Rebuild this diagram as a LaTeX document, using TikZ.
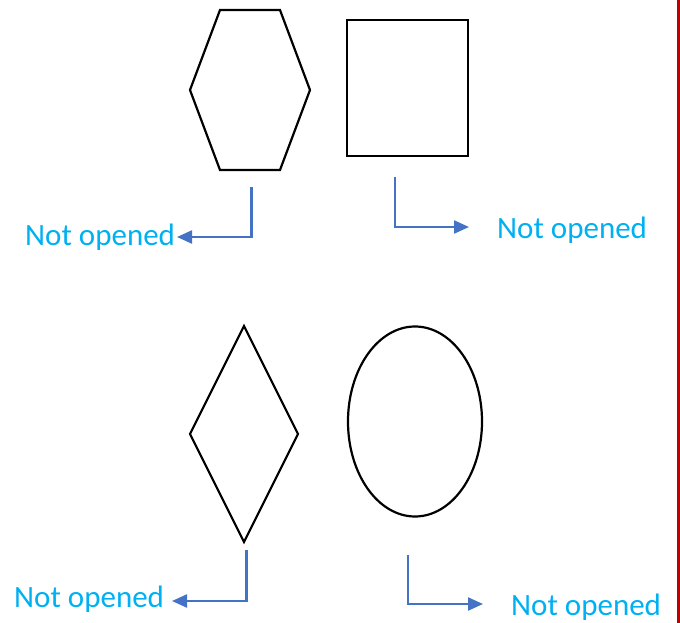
\documentclass[tikz,border=0pt]{standalone}
\usepackage{fontspec}
\setmainfont{Carlito}
\usetikzlibrary{arrows.meta}
\definecolor{labelblue}{HTML}{00B0F0}
\definecolor{arrowblue}{HTML}{4472C4}
\definecolor{edgered}{HTML}{C00000}
\tikzset{
  outline/.style={draw=black, line width=2.2pt, line join=miter},
  pointer/.style={draw=arrowblue, line width=2.2pt,
    -{Triangle[length=15pt,width=13pt]}},
  notelabel/.style={text=labelblue, inner sep=0pt,
    font=\fontsize{31}{36}\selectfont},
}
\begin{document}
\begin{tikzpicture}[x=1pt,y=-1pt]
  \useasboundingbox (0,0) rectangle (680,623);
  % right margin rule
  \fill[edgered] (676.5,0) rectangle (680,623);

  % shapes
  \draw[outline] (220,10) -- (280,10) -- (310,90) -- (280,170) -- (220,170) -- (190,90) -- cycle;
  \draw[outline] (347,20) rectangle (468,156);
  \draw[outline] (244,326) -- (298,434) -- (244,542) -- (190,434) -- cycle;
  \draw[outline] (415,421.5) ellipse [x radius=67, y radius=95];

  % labels
  \node[notelabel, anchor=base west] (l1) at (25,245) {Not opened};
  \node[notelabel, anchor=base west] (l2) at (497,238) {Not opened};
  \node[notelabel, anchor=base west] (l3) at (14,607) {Not opened};
  \node[notelabel, anchor=base west] (l4) at (511,615) {Not opened};

  % connector start points
  \coordinate (s1) at (251.5,187);
  \coordinate (s2) at (395,177);
  \coordinate (s3) at (246.5,550);
  \coordinate (s4) at (408,555);

  % tips
  \coordinate (t1) at (177,237);
  \coordinate (t2) at (469,227);
  \coordinate (t3) at (172,601);
  \coordinate (t4) at (483,604);

  \draw[pointer] (s1) |- (t1);
  \draw[pointer] (s2) |- (t2);
  \draw[pointer] (s3) |- (t3);
  \draw[pointer] (s4) |- (t4);
\end{tikzpicture}
\end{document}
